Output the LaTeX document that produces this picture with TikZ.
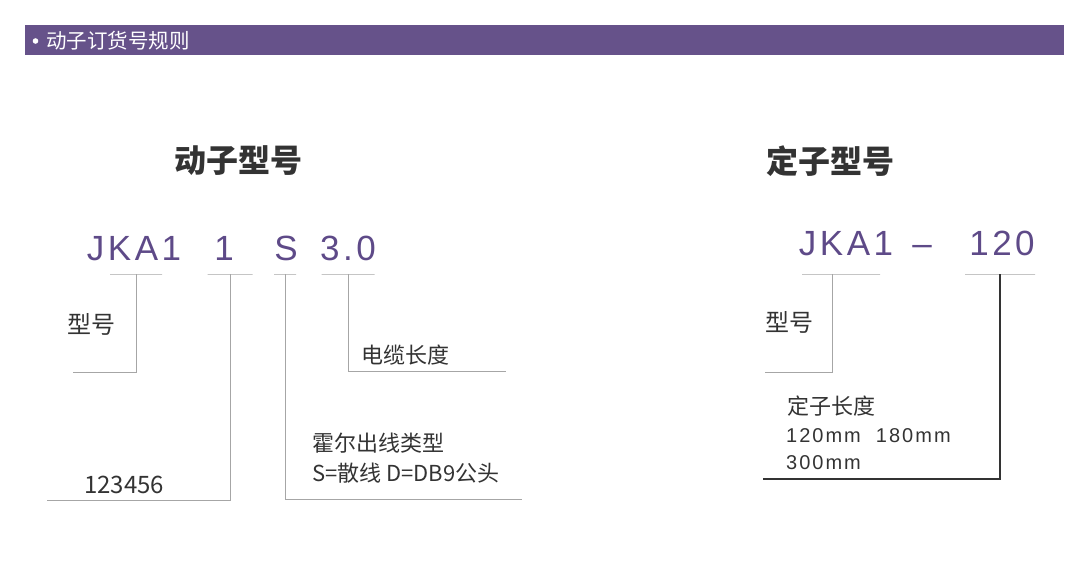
\documentclass[tikz,border=0pt]{standalone}
\usepackage{fontspec}
\setmainfont{Noto Sans CJK SC}
\newfontfamily\modelfont{Liberation Sans}
\definecolor{barpurple}{HTML}{66528A}
\definecolor{modelpurple}{HTML}{5E4A88}
\definecolor{leadgray}{HTML}{A6A6A6}
\definecolor{textdark}{HTML}{333333}

\begin{document}
\begin{tikzpicture}[x=1pt,y=-1pt,
    model/.style={text=modelpurple,inner sep=0pt,anchor=base,
      font=\modelfont\addfontfeature{LetterSpace=10}\fontsize{35}{35}\selectfont},
    note/.style={text=textdark,inner sep=0pt,anchor=west,align=left,
      font=\fontsize{22}{30}\selectfont},
    heading/.style={text=textdark,inner sep=0pt,anchor=west,
      font=\bfseries\fontsize{32}{32}\selectfont},
    uline/.style={draw=leadgray,line width=0.9pt,inner sep=0pt,
      minimum height=0pt,outer sep=0pt},
    lead/.style={draw=leadgray,line width=0.9pt},
    mainlead/.style={draw=textdark,line width=2.5pt}]
    \useasboundingbox (0,0) rectangle (1075,575);

    \fill[barpurple] (25,25) rectangle (1064,55);
    \fill[white] (35.5,41) circle (2.8);
    \node[anchor=west,inner sep=0pt,text=white,
      font=\fontsize{20.5}{20.5}\selectfont]
      (title) at (46,41) {动子订货号规则};

    \node[heading] (moverhead) at (174,161) {动子型号};
    \node[heading] (statorhead) at (766,161) {定子型号};

    \node[model] (jka) at (134,260) {JKA1};
    \node[model] (hall) at (224,260) {1};
    \node[model] (out) at (286,260) {S};
    \node[model] (cable) at (348,260) {3.0};

    \node[uline,minimum width=52pt] (ujka) at (136,274) {};
    \node[uline,minimum width=45pt] (uhall) at (230,274) {};
    \node[uline,minimum width=22pt] (uout) at (285,274) {};
    \node[uline,minimum width=53pt] (ucable) at (348,274) {};

    \node[note,font=\fontsize{24}{24}\selectfont] (typelbl) at (67,324) {型号};
    \node[note,anchor=base west,font=\fontsize{24}{24}\selectfont] (codelbl) at (84,493) {123456};
    \node[note] (cablelbl) at (361,355) {电缆长度};
    \node[note,anchor=north west] (outlbl) at (312,433) {霍尔出线类型\\S=散线 D=DB9公头};

    \coordinate (etype) at (73,372);
    \coordinate (ecode) at (47,500);
    \coordinate (eout) at (522,499);
    \coordinate (ecable) at (506,371);

    \draw[lead] (ujka) |- (etype);
    \draw[lead] (uhall) |- (ecode);
    \draw[lead] (uout) |- (eout);
    \draw[lead] (ucable) |- (ecable);

    \node[model] (sjka) at (846,255) {JKA1};
    \node[model] (sdash) at (922,255) {–};
    \node[model] (slen) at (1002,255) {120};

    \node[uline,minimum width=78pt] (usjka) at (841,274) {};
    \node[uline,minimum width=70pt] (uslen) at (1000,274) {};

    \node[note,font=\fontsize{24}{24}\selectfont] (stypelbl) at (765,322) {型号};
    \node[note] (slenlbl) at (787,406) {定子长度};
    \node[note,anchor=north west,text=textdark,
      font=\modelfont\addfontfeature{LetterSpace=10}\fontsize{20}{27}\selectfont]
      (slenval) at (786,428) {120mm\ \ 180mm\\300mm};

    \coordinate (estype) at (765,372);
    \coordinate (eslen) at (763,479);

    \draw[lead] ([xshift=-9pt]usjka.center) |- (estype);
    \draw[mainlead] (uslen) |- (eslen);
\end{tikzpicture}
\end{document}
